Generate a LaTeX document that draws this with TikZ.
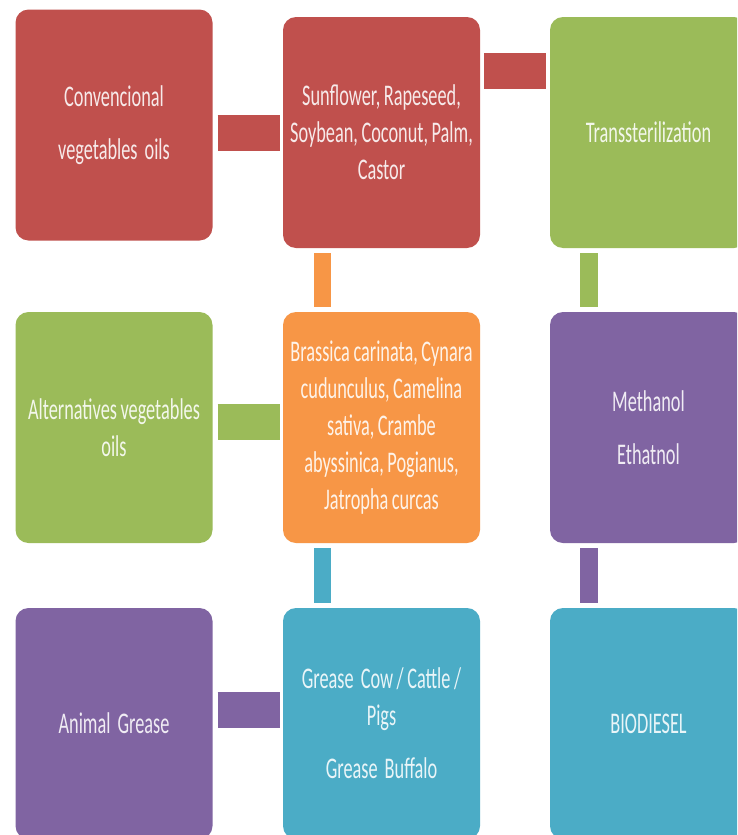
\documentclass[tikz,border=0pt]{standalone}
\usepackage{fontspec}
\setmainfont[FakeStretch=0.61,WordSpace=0.85]{Carlito}
\definecolor{cred}{HTML}{C0504D}
\definecolor{cgreen}{HTML}{9BBB59}
\definecolor{corange}{HTML}{F79646}
\definecolor{cpurple}{HTML}{8064A2}
\definecolor{cblue}{HTML}{4BACC6}
\tikzset{
  box/.style={rectangle, rounded corners=13pt, fill=#1, draw=none,
    minimum width=197pt, minimum height=231pt, inner sep=0pt,
    text=#1!12!white, align=center,
    font=\fontsize{30}{37}\selectfont},
  hbar/.style={draw=#1, line width=36pt, shorten <=4pt, shorten >=4pt},
  vbar/.style={draw=#1, line width=17.5pt, shorten <=5pt, shorten >=5pt},
}
\begin{document}
\begin{tikzpicture}[x=1pt,y=-1pt]
\clip (0,0) rectangle (737,835);
\fill[white] (0,0) rectangle (737,835);
% row 1
\node[box=cred] (A) at (114,125) {Convencional\\[16pt]vegetables\ \ oils};
\node[box=cred] (B) at (381.5,132.5) {Sunflower, Rapeseed,\\Soybean, Coconut, Palm,\\Castor};
\node[box=cgreen] (C) at (648.5,132.5) {Transsterilization};
% row 2
\node[box=cgreen] (D) at (114,427.5) {Alternatives vegetables\\oils};
\node[box=corange] (E) at (381.5,427.5) {Brassica carinata, Cynara\\cudunculus, Camelina\\sativa, Crambe\\abyssinica, Pogianus,\\Jatropha curcas};
\node[box=cpurple] (F) at (648.5,427.5) {Methanol\\[16pt]Ethatnol};
% row 3
\node[box=cpurple] (G) at (114,723.5) {Animal\ \ Grease};
\node[box=cblue] (H) at (381.5,723.5) {Grease\ \ Cow / Cattle /\\Pigs\\[16pt]Grease\ \ Buffalo};
\node[box=cblue] (I) at (648.5,723.5) {BIODIESEL};
% horizontal connectors
\draw[hbar=cred, shorten <=5pt, shorten >=3pt] (A.east |- B.west) -- (B.west);
\draw[hbar=cred] ([yshift=-54.5pt]B.north east) -- ([yshift=-54.5pt]C.north west);
\draw[hbar=cgreen, shorten <=5pt, shorten >=3pt] ([yshift=6pt]D.east) -- ([yshift=6pt]E.west);
\draw[hbar=cpurple, shorten <=5pt, shorten >=3pt] ([yshift=13.5pt]G.east) -- ([yshift=13.5pt]H.west);
% vertical connectors
\draw[vbar=corange] ([xshift=-59pt]B.south) -- ([xshift=-59pt]E.north);
\draw[vbar=cblue] ([xshift=-59pt]E.south) -- ([xshift=-59pt]H.north);
\draw[vbar=cgreen] ([xshift=-59.5pt]C.south) -- ([xshift=-59.5pt]F.north);
\draw[vbar=cpurple] ([xshift=-59.5pt]F.south) -- ([xshift=-59.5pt]I.north);
\end{tikzpicture}
\end{document}
